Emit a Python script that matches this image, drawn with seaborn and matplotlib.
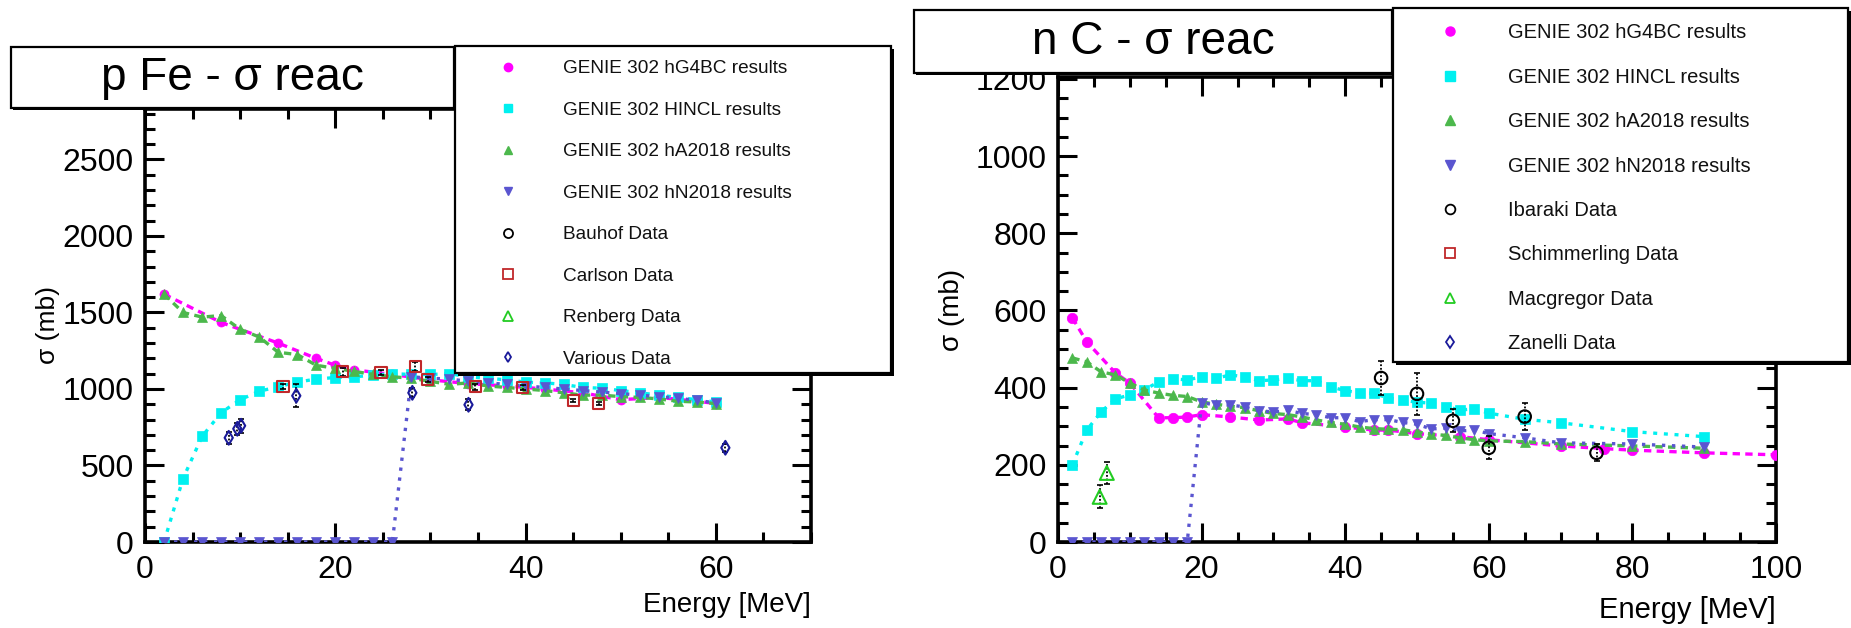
import numpy as np
import matplotlib
matplotlib.use("Agg")
import matplotlib.pyplot as plt
import seaborn as sns
from matplotlib.lines import Line2D
from matplotlib.patches import Rectangle
from matplotlib.ticker import MultipleLocator

sns.set_theme(style="ticks")
plt.rcParams['font.family'] = ['Liberation Sans', 'DejaVu Sans']

# ---------------- p Fe data ----------------
fe_x2 = [2, 4, 6, 8, 10, 12, 14, 16, 18, 20, 22, 24, 26, 28, 30, 32, 34, 36, 38, 40,
         42, 44, 46, 48, 50, 52, 54, 56, 58, 60]
fe_hg4bc_x = [2, 8, 14, 18, 20, 22, 26, 30, 34, 38, 42, 46, 50, 54, 58, 60]
fe_hg4bc_y = [1620, 1435, 1300, 1200, 1155, 1125, 1095, 1060, 1035, 1020, 1000, 975, 930, 945, 920, 905]
fe_hincl_y = [0, 415, 690, 845, 930, 985, 1015, 1045, 1065, 1075, 1080, 1090, 1100, 1095, 1095,
              1100, 1080, 1070, 1060, 1045, 1040, 1030, 1010, 1005, 990, 975, 960, 945, 930, 915]
fe_ha_y = [1620, 1500, 1470, 1480, 1390, 1340, 1240, 1225, 1155, 1135, 1115, 1095, 1080, 1070, 1050,
           1030, 1040, 1020, 1010, 1000, 990, 975, 960, 960, 950, 945, 935, 920, 915, 905]
fe_hn_y = [0, 0, 0, 0, 0, 0, 0, 0, 0, 0, 0, 0, 0, 1080, 1070, 1065, 1050, 1040, 1030, 1020,
           1010, 1000, 990, 980, 970, 960, 950, 940, 925, 910]
fe_bauhof_x, fe_bauhof_y, fe_bauhof_e = [], [], []
fe_carlson_x = [14.5, 20.8, 24.8, 28.4, 29.7, 34.7, 39.7, 45.0, 47.7]
fe_carlson_y = [1015, 1113, 1106, 1146, 1061, 1015, 1008, 923, 904]
fe_carlson_e = [15, 25, 15, 30, 15, 20, 15, 10, 10]
fe_renberg_x, fe_renberg_y, fe_renberg_e = [], [], []
fe_various_x = [8.8, 9.7, 10.1, 15.9, 28.1, 34.0, 61.0]
fe_various_y = [681, 740, 760, 956, 975, 897, 616]
fe_various_e = [40, 40, 45, 75, 30, 35, 25]

# ---------------- n C data ----------------
c_x2 = [2, 4, 6, 8, 10, 12, 14, 16, 18, 20, 22, 24, 26, 28, 30, 32, 34, 36, 38, 40,
        42, 44, 46, 48, 50, 52, 54, 56, 58, 60, 65, 70, 80, 90]
c_hg4bc_x = [2, 4, 8, 10, 14, 16, 18, 20, 24, 28, 32, 34, 40, 44, 46, 50, 56, 60, 70, 76, 80, 90, 100]
c_hg4bc_y = [581, 519, 438, 412, 322, 322, 324, 330, 324, 316, 319, 309, 298, 290, 290, 281, 273,
             265, 249, 242, 238, 231, 226]
c_hincl_y = [200, 290, 337, 371, 381, 394, 415, 423, 420, 428, 424, 433, 428, 418, 420, 424, 418,
             418, 402, 392, 387, 385, 373, 368, 362, 360, 351, 342, 345, 334, 318, 309, 286, 273]
c_ha_y = [477, 467, 441, 433, 412, 394, 386, 380, 377, 363, 357, 352, 348, 340, 333, 330, 324, 316,
          310, 305, 298, 294, 292, 291, 285, 280, 276, 270, 265, 262, 260, 254, 249, 243]
c_hn_y = [0, 0, 0, 0, 0, 0, 0, 0, 0, 361, 355, 355, 350, 340, 337, 341, 333, 330, 322, 322,
          312, 317, 317, 310, 305, 293, 295, 288, 290, 281, 270, 257, 254, 246]
c_ibaraki_x = [45, 50, 55, 60, 65, 75]
c_ibaraki_y = [425, 384, 314, 244, 325, 231]
c_ibaraki_e = [45, 55, 30, 30, 35, 22]
c_schim_x, c_schim_y, c_schim_e = [], [], []
c_macg_x = [5.8, 6.8]
c_macg_y = [117, 179]
c_macg_e = [30, 28]
c_zanelli_x, c_zanelli_y, c_zanelli_e = [], [], []

model_labels = ["GENIE 302 hG4BC results", "GENIE 302 HINCL results",
                "GENIE 302 hA2018 results", "GENIE 302 hN2018 results"]
fe_data_labels = ["Bauhof Data", "Carlson Data", "Renberg Data", "Various Data"]
c_data_labels = ["Ibaraki Data", "Schimmerling Data", "Macgregor Data", "Zanelli Data"]

MAG, CYA, GRN, BLU = "#ff00ff", "#00f0f0", "#4cb84c", "#5a55d0"
D_BLK, D_RED, D_GRN, D_BLU = "black", "#c0282a", "#22cc22", "#1a1a9a"

W, H = 1851, 628
fig = plt.figure(figsize=(W / 100, H / 100), dpi=100)
fig.patch.set_facecolor("white")


def fx(px):
    return px / W


def fy(py):
    return 1 - py / H


axL = fig.add_axes([fx(145), fy(542), fx(811) - fx(145), fy(109) - fy(542)])
axR = fig.add_axes([fx(1058), fy(542), fx(1776) - fx(1058), fy(77) - fy(542)])


def model(ax, x, y, color, marker, ls, ms):
    sns.lineplot(x=x, y=y, ax=ax, color=color, marker=marker, linestyle=ls, lw=2.4,
                 markersize=ms, markeredgecolor=color, markeredgewidth=0.5,
                 sort=False, estimator=None, legend=False, zorder=3)


def data(ax, x, y, err, color, marker, ms):
    if len(x) == 0:
        return
    eb = ax.errorbar(x, y, yerr=err, fmt='none', ecolor='black', elinewidth=1.3,
                     capsize=2.0, capthick=1.2, zorder=4)
    eb[2][0].set_linestyle((0, (1, 1)))
    sns.scatterplot(x=x, y=y, ax=ax, marker=marker, s=ms ** 2, facecolors='none',
                    edgecolor=color, linewidth=1.5, zorder=5, legend=False)


def style(ax, xlim, ylim, xmaj, xmin, ymaj, ymin):
    ax.set_xlim(*xlim)
    ax.set_ylim(*ylim)
    ax.xaxis.set_major_locator(MultipleLocator(xmaj))
    ax.xaxis.set_minor_locator(MultipleLocator(xmin))
    ax.yaxis.set_major_locator(MultipleLocator(ymaj))
    ax.yaxis.set_minor_locator(MultipleLocator(ymin))
    ax.tick_params(which='both', direction='in', top=True, right=True, width=2.2,
                   color='black', labelcolor='black')
    ax.tick_params(which='major', length=14, labelsize=23)
    ax.tick_params(axis='x', which='major', pad=9)
    ax.tick_params(axis='y', which='major', pad=8)
    ax.tick_params(which='minor', length=7.5)
    for s in ax.spines.values():
        s.set_linewidth(2.6)
        s.set_color('black')
    ax.set_facecolor("white")
    ax.grid(False)


# ----- left panel -----
model(axL, fe_hg4bc_x, fe_hg4bc_y, MAG, 'o', (0, (2.2, 1.6)), 6.5)
model(axL, fe_x2, fe_hincl_y, CYA, 's', (0, (1.2, 2.0)), 6.5)
model(axL, fe_x2, fe_ha_y, GRN, '^', (0, (2.2, 1.6)), 6.5)
model(axL, fe_x2, fe_hn_y, BLU, 'v', (0, (1.0, 2.0)), 6.5)
data(axL, fe_bauhof_x, fe_bauhof_y, fe_bauhof_e, D_BLK, 'o', 8)
data(axL, fe_carlson_x, fe_carlson_y, fe_carlson_e, D_RED, 's', 8)
data(axL, fe_renberg_x, fe_renberg_y, fe_renberg_e, D_GRN, '^', 8)
data(axL, fe_various_x, fe_various_y, fe_various_e, D_BLU, 'd', 7)
style(axL, (0, 70), (0, 2830), 20, 5, 500, 100)

# ----- right panel -----
model(axR, c_hg4bc_x, c_hg4bc_y, MAG, 'o', (0, (2.2, 1.6)), 7.5)
model(axR, c_x2, c_hincl_y, CYA, 's', (0, (1.2, 2.0)), 7.5)
model(axR, c_x2, c_ha_y, GRN, '^', (0, (2.2, 1.6)), 7.5)
model(axR, c_x2, c_hn_y, BLU, 'v', (0, (1.0, 2.0)), 7.5)
data(axR, c_ibaraki_x, c_ibaraki_y, c_ibaraki_e, D_BLK, 'o', 9)
data(axR, c_schim_x, c_schim_y, c_schim_e, D_RED, 's', 9)
data(axR, c_macg_x, c_macg_y, c_macg_e, D_GRN, '^', 10)
data(axR, c_zanelli_x, c_zanelli_y, c_zanelli_e, D_BLU, 'd', 8)
style(axR, (0, 100), (0, 1205), 20, 5, 200, 50)

for ax, ycx, xlfs, ylfs in [(axL, -0.1456, 20, 19), (axR, -0.1476, 21, 20)]:
    ax.set_xlabel("Energy [MeV]", fontsize=xlfs, color='black')
    ax.set_ylabel("σ (mb)", fontsize=ylfs, color='black')
    ax.yaxis.set_label_coords(ycx, 0.5)
    ax.yaxis.label.set_verticalalignment('center')
    ax.xaxis.label.set_horizontalalignment('right')
    ax.xaxis.label.set_verticalalignment('center')
axL.xaxis.set_label_coords(1.0, (542 - 605) / 433)
axR.xaxis.set_label_coords(1.0, (542 - 610) / 465)


def box(x0, y0, x1, y1, shadow=3, lw=1.6):
    if shadow:
        fig.add_artist(Rectangle((fx(x0 + shadow), fy(y1 + shadow)), fx(x1 - x0), (y1 - y0) / H,
                                 transform=fig.transFigure, facecolor='black', edgecolor='black',
                                 lw=0, zorder=6))
    fig.add_artist(Rectangle((fx(x0), fy(y1)), fx(x1 - x0), (y1 - y0) / H,
                             transform=fig.transFigure, facecolor='white', edgecolor='black',
                             lw=lw, zorder=7))


# title boxes
box(11, 47, 454, 108, shadow=2)
fig.text(fx(232.5), fy(78), "p Fe - σ reac", fontsize=33, ha='center', va='center',
         color='black', zorder=8)
box(914, 10, 1392, 73, shadow=2)
fig.text(fx(1153), fy(42), "n C - σ reac", fontsize=33, ha='center', va='center',
         color='black', zorder=8)

# legend boxes
box(455, 46, 891, 373, shadow=3)
box(1393, 8, 1848, 362, shadow=3)


def handles(ms_m, ms_d):
    return [Line2D([], [], ls='none', marker='o', color=MAG, ms=ms_m),
            Line2D([], [], ls='none', marker='s', color=CYA, ms=ms_m),
            Line2D([], [], ls='none', marker='^', color=GRN, ms=ms_m),
            Line2D([], [], ls='none', marker='v', color=BLU, ms=ms_m),
            Line2D([], [], ls='none', marker='o', mfc='none', mec=D_BLK, mew=1.3, ms=ms_d),
            Line2D([], [], ls='none', marker='s', mfc='none', mec=D_RED, mew=1.3, ms=ms_d),
            Line2D([], [], ls='none', marker='^', mfc='none', mec=D_GRN, mew=1.3, ms=ms_d),
            Line2D([], [], ls='none', marker='d', mfc='none', mec=D_BLU, mew=1.3, ms=ms_d - 1)]


legL = fig.legend(handles(6, 6.5), model_labels + fe_data_labels, loc='upper left',
                  bbox_to_anchor=(fx(489), fy(60)), frameon=False, fontsize=13.7,
                  borderpad=0, borderaxespad=0, handlelength=2.0, handletextpad=1.89,
                  labelspacing=1.27)
legL.set_zorder(9)
legR = fig.legend(handles(6.5, 7), model_labels + c_data_labels, loc='upper left',
                  bbox_to_anchor=(fx(1430), fy(23.5)), frameon=False, fontsize=14.5,
                  borderpad=0, borderaxespad=0, handlelength=2.0, handletextpad=1.88,
                  labelspacing=1.26)
legR.set_zorder(9)
for leg in (legL, legR):
    for t in leg.get_texts():
        t.set_color('#111111')

fig.savefig("out.png", dpi=100, facecolor='white')
